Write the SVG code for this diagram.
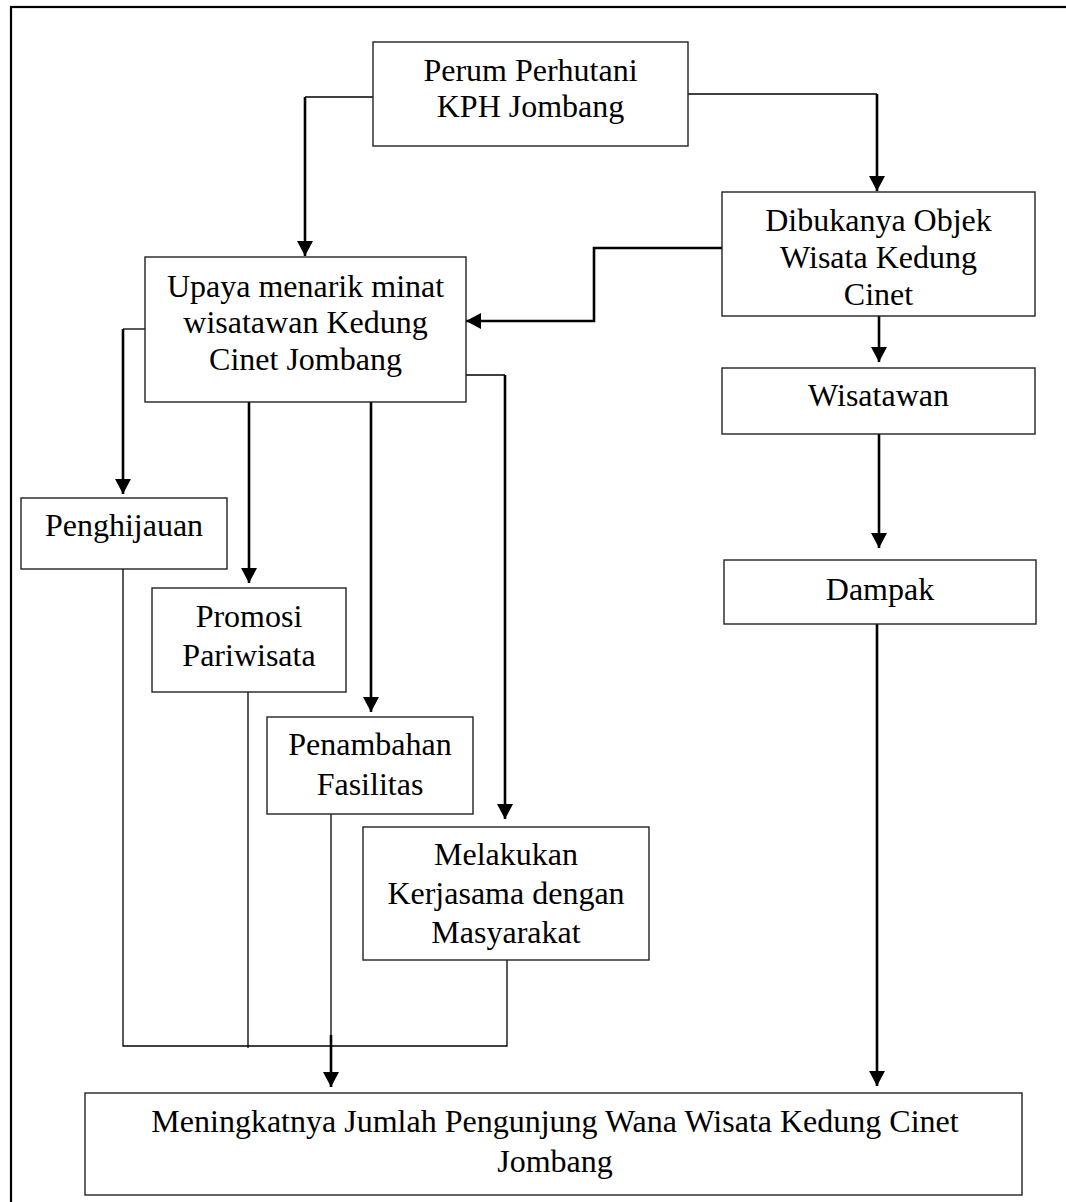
<svg xmlns="http://www.w3.org/2000/svg" width="1066" height="1202" viewBox="0 0 1066 1202">
<style>
.box{fill:#fff;stroke:#222;stroke-width:1.4}
.t{font-family:"Liberation Serif","Times New Roman",serif;font-size:32px;fill:#000;text-anchor:middle}
.thin{fill:none;stroke:#000;stroke-width:1.3}
.thick{fill:none;stroke:#000;stroke-width:2.6}
.arr{marker-end:url(#ah)}
</style>
<defs>
<marker id="ah" markerUnits="userSpaceOnUse" markerWidth="16" markerHeight="16" refX="15" refY="8" orient="auto">
<path d="M0,0 L15,8 L0,16 z" fill="#000"/>
</marker>
</defs>
<rect x="11" y="7" width="1100" height="1250" fill="none" stroke="#000" stroke-width="2.2"/>
<g id="connectors">
<path class="thin" d="M373 97 H305"/>
<path class="thick arr" d="M305 97 V256"/>
<path class="thin" d="M688 94 H877"/>
<path class="thick arr" d="M877 94 V191"/>
<path class="thick arr" d="M722 248 H594 V321 H466"/>
<path class="thick arr" d="M879 316 V362"/>
<path class="thick arr" d="M879 434 V548"/>
<path class="thick arr" d="M877 624 V1086"/>
<path class="thin" d="M145 329 H123"/>
<path class="thick arr" d="M123 329 V494"/>
<path class="thick arr" d="M249 402 V583"/>
<path class="thick arr" d="M371 402 V712"/>
<path class="thin" d="M466 375 H505"/>
<path class="thick arr" d="M505 375 V819"/>
<path class="thin" d="M123 569 V1046 H507 V960"/>
<path class="thin" d="M248 692 V1048"/>
<path class="thin" d="M331 814 V1035"/>
<path class="thick arr" d="M331 1035 V1087"/>
</g>
<g id="perum">
<rect class="box" x="373" y="42" width="315" height="104"/>
<text class="t" x="530.5" y="81">Perum Perhutani</text>
<text class="t" x="530.5" y="117">KPH Jombang</text>
</g>
<g id="dibukanya">
<rect class="box" x="722" y="192" width="313" height="124"/>
<text class="t" x="878.5" y="231">Dibukanya Objek</text>
<text class="t" x="878.5" y="268">Wisata Kedung</text>
<text class="t" x="878.5" y="305">Cinet</text>
</g>
<g id="upaya">
<rect class="box" x="145" y="257" width="321" height="145"/>
<text class="t" x="305.5" y="297">Upaya menarik minat</text>
<text class="t" x="305.5" y="333">wisatawan Kedung</text>
<text class="t" x="305.5" y="370">Cinet Jombang</text>
</g>
<g id="wisatawan">
<rect class="box" x="722" y="368" width="313" height="66"/>
<text class="t" x="878.5" y="406">Wisatawan</text>
</g>
<g id="dampak">
<rect class="box" x="724" y="560" width="312" height="64"/>
<text class="t" x="880" y="600">Dampak</text>
</g>
<g id="penghijauan">
<rect class="box" x="21" y="498" width="206" height="71"/>
<text class="t" x="124" y="536">Penghijauan</text>
</g>
<g id="promosi">
<rect class="box" x="152" y="588" width="194" height="104"/>
<text class="t" x="249" y="627">Promosi</text>
<text class="t" x="249" y="666">Pariwisata</text>
</g>
<g id="penambahan">
<rect class="box" x="267" y="717" width="206" height="97"/>
<text class="t" x="370" y="755">Penambahan</text>
<text class="t" x="370" y="795">Fasilitas</text>
</g>
<g id="melakukan">
<rect class="box" x="363" y="827" width="286" height="133"/>
<text class="t" x="506" y="865">Melakukan</text>
<text class="t" x="506" y="904">Kerjasama dengan</text>
<text class="t" x="506" y="943">Masyarakat</text>
</g>
<g id="final">
<rect class="box" x="85" y="1093" width="937" height="102"/>
<text class="t" x="555" y="1132">Meningkatnya Jumlah Pengunjung Wana Wisata Kedung Cinet</text>
<text class="t" x="555" y="1172">Jombang</text>
</g>
</svg>
